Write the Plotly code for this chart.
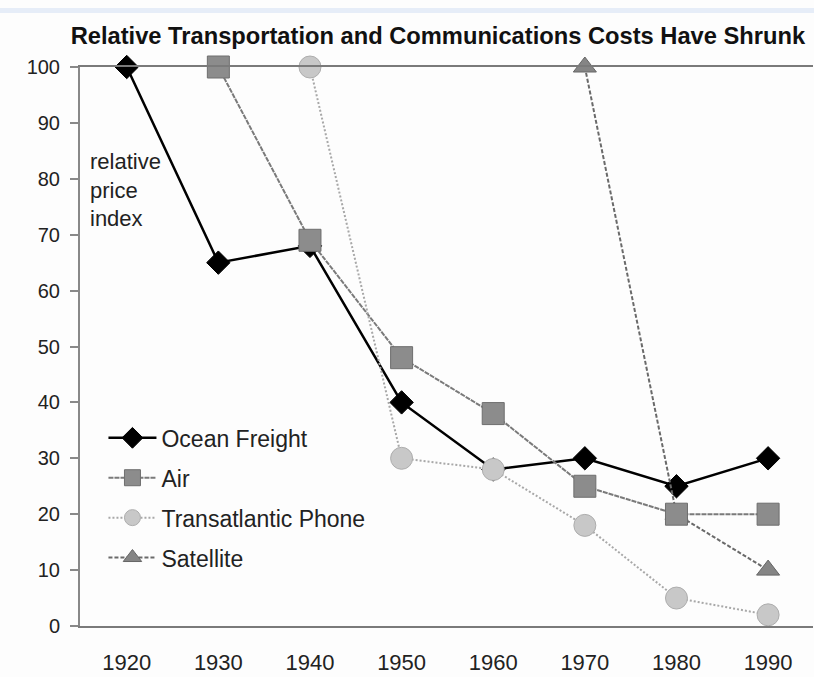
import plotly.graph_objects as go

years = [1920, 1930, 1940, 1950, 1960, 1970, 1980, 1990]
ocean_freight = [100, 65, 68, 40, 28, 30, 25, 30]
air_years = [1930, 1940, 1950, 1960, 1970, 1980, 1990]
air = [100, 69, 48, 38, 25, 20, 20]
phone_years = [1940, 1950, 1960, 1970, 1980, 1990]
phone = [100, 30, 28, 18, 5, 2]
sat_years = [1970, 1980, 1990]
satellite = [100, 20, 10]
tick_years = years
y_ticks = [0, 10, 20, 30, 40, 50, 60, 70, 80, 90, 100]

FONT = "Arial, 'Liberation Sans', sans-serif"

fig = go.Figure()

fig.add_trace(go.Scatter(
    x=years, y=ocean_freight, name="Ocean Freight", mode="lines+markers",
    line=dict(color="#000000", width=2.5),
    marker=dict(symbol="diamond", size=18, color="#000000", line=dict(color="#000000", width=1)),
    cliponaxis=False, legendrank=1, legendgroup="a"))

fig.add_trace(go.Scatter(
    x=sat_years, y=satellite, name="Satellite", mode="lines+markers",
    line=dict(color="#6a6a6a", width=2, dash="4px,2px"),
    marker=dict(symbol="triangle-up", size=20, color="#858585", line=dict(color="#666666", width=1)),
    cliponaxis=False, legendrank=4, legendgroup="d"))

fig.add_trace(go.Scatter(
    x=air_years, y=air, name="Air", mode="lines+markers",
    line=dict(color="#7a7a7a", width=2, dash="5px,1px"),
    marker=dict(symbol="square", size=22, color="#8c8c8c", line=dict(color="#6e6e6e", width=1)),
    cliponaxis=False, legendrank=2, legendgroup="b"))

fig.add_trace(go.Scatter(
    x=phone_years, y=phone, name="Transatlantic Phone", mode="lines+markers",
    line=dict(color="#a8a8a8", width=2, dash="2px,2px"),
    marker=dict(symbol="circle", size=22, color="#c8c8c8", line=dict(color="#adadad", width=1)),
    cliponaxis=False, legendrank=3, legendgroup="c"))

fig.add_annotation(
    text="relative<br>price<br>index", xref="paper", yref="y", x=0.011, y=78,
    xanchor="left", yanchor="middle", align="left", showarrow=False,
    font=dict(family=FONT, size=22, color="#222222"))

fig.add_shape(type="rect", xref="paper", yref="paper",
              x0=-0.12, x1=1.01, y0=1.0966, y1=1.1055,
              fillcolor="#e6edf8", line=dict(width=0), layer="below")

fig.update_layout(
    width=814, height=677,
    margin=dict(l=80, r=1, t=67, b=51),
    paper_bgcolor="#fdfdfd", plot_bgcolor="#fdfdfd",
    title=dict(text="<b>Relative Transportation and Communications Costs Have Shrunk</b>",
               x=0.538, xanchor="center", xref="container",
               y=0.947, yanchor="middle", yref="container",
               font=dict(family=FONT, size=23.7, color="#111111")),
    font=dict(family=FONT, color="#222222"),
    showlegend=True,
    legend=dict(x=0.032, y=0.375, xanchor="left", yanchor="top",
                bgcolor="rgba(0,0,0,0)", traceorder="grouped", tracegroupgap=7,
                font=dict(family=FONT, size=23, color="#222222"),
                itemwidth=48),
    xaxis=dict(range=[1914.9, 1994.9], tickvals=tick_years, ticktext=[str(v) for v in tick_years],
               showgrid=False, zeroline=False, showline=True, linecolor="#7a7a7a", linewidth=2,
               mirror=True, ticks="", ticklabelstandoff=16,
               tickfont=dict(family=FONT, size=22, color="#222222")),
    yaxis=dict(range=[0, 100], tickvals=y_ticks, showgrid=False, zeroline=False,
               showline=True, linecolor="#888888", linewidth=2, ticks="outside", ticklen=8,
               tickcolor="#888888", tickwidth=2, ticklabelstandoff=6,
               tickfont=dict(family=FONT, size=20, color="#222222")),
)

fig.write_html("out.html", config={"displayModeBar": False},
               post_script="document.body.style.margin='0';document.body.style.overflow='hidden';")
